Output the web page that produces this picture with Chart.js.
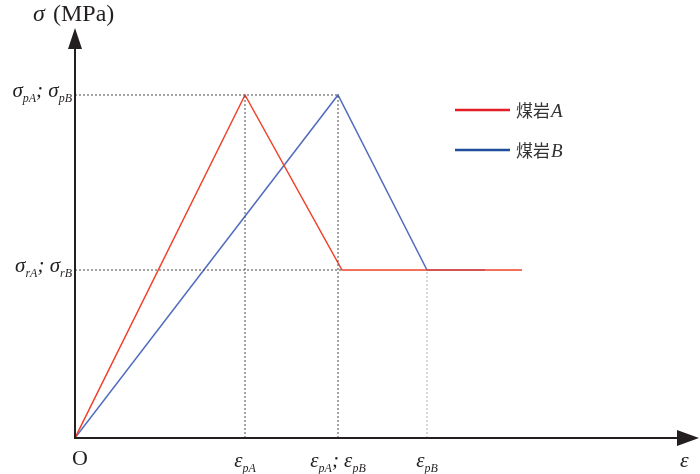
<!DOCTYPE html>
<html>
<head>
<meta charset="utf-8">
<script src="https://cdn.jsdelivr.net/npm/chart.js@4"></script>
<style>
  body { margin: 0; background: #fff; }
  #wrap { width: 700px; height: 474px; position: relative; }
</style>
</head>
<body>
<div id="wrap"><canvas id="myChart"></canvas></div>
<script>
// strain / stress in arbitrary units (no numeric ticks on the original)
const redStrain = [0, 1.70, 2.67, 4.47];
const redStress = [0, 3.43, 1.68, 1.68];
const blueStrain = [0, 2.63, 3.52, 4.10];
const blueStress = [0, 3.43, 1.68, 1.68];

const seriesNames = ["煤岩A", "煤岩B"];
const yTicks = [3.43, 1.68];
const yTickLabels = ["σ_pA; σ_pB", "σ_rA; σ_rB"];
const xTicks = [1.70, 2.63, 3.52];
const xTickLabels = ["ε_pA", "ε_pA; ε_pB", "ε_pB"];

const RED = "#f0412a";
const BLUE = "rgba(50, 82, 180, 0.85)";
const SERIF = "'Liberation Serif', 'DejaVu Serif', serif";
const CJK = "'Noto Sans CJK SC', sans-serif";

const pts = (xs, ys) => xs.map((x, i) => ({ x: x, y: ys[i] }));

const guide = (data, color) => ({
  data: data,
  borderColor: color || "#4a4a4a",
  borderWidth: 1,
  borderDash: [2, 2],
  pointRadius: 0,
  fill: false,
});

// draw "σ_pA; σ_pB" style text, subscripts after "_"
function drawRich(ctx, str, x, y, align) {
  const parts = [];
  str.split(/(_[A-Za-z]+)/).forEach((p) => {
    if (!p) return;
    if (p[0] === "_") parts.push({ t: p.slice(1), sub: true });
    else parts.push({ t: p, sub: false });
  });
  const fontFor = (p) =>
    p.sub ? "italic 12px " + SERIF : (/[σε]/.test(p.t) ? "italic 21px " : "20px ") + SERIF;
  let w = 0;
  parts.forEach((p) => { ctx.font = fontFor(p); w += ctx.measureText(p.t).width; });
  let cx = align === "right" ? x - w : align === "center" ? x - w / 2 : x;
  ctx.textAlign = "left";
  ctx.textBaseline = "alphabetic";
  parts.forEach((p) => {
    ctx.font = fontFor(p);
    ctx.fillText(p.t, cx, p.sub ? y + 5 : y);
    cx += ctx.measureText(p.t).width;
  });
}

const decorations = {
  id: "decorations",
  afterDraw(chart) {
    const ctx = chart.ctx;
    const xs = chart.scales.x, ys = chart.scales.y;
    const x0 = xs.getPixelForValue(0), y0 = ys.getPixelForValue(0);
    const top = chart.chartArea.top, right = chart.chartArea.right;
    ctx.save();
    ctx.fillStyle = "#231f20";
    ctx.strokeStyle = "#231f20";
    ctx.lineWidth = 2;
    // axes
    ctx.beginPath();
    ctx.moveTo(x0, y0); ctx.lineTo(x0, top + 18);
    ctx.moveTo(x0 - 1, y0); ctx.lineTo(right - 18, y0);
    ctx.stroke();
    // arrow heads
    ctx.beginPath();
    ctx.moveTo(x0, top); ctx.lineTo(x0 - 7, top + 21); ctx.lineTo(x0 + 7, top + 21);
    ctx.closePath(); ctx.fill();
    ctx.beginPath();
    ctx.moveTo(right + 4, y0); ctx.lineTo(right - 18, y0 - 8); ctx.lineTo(right - 18, y0 + 8);
    ctx.closePath(); ctx.fill();

    // axis titles
    ctx.textBaseline = "alphabetic";
    ctx.font = "italic 24px " + SERIF;
    ctx.fillText("σ", 33, 21);
    ctx.font = "24px " + SERIF;
    ctx.fillText("(MPa)", 53, 21);
    ctx.font = "italic 22px " + SERIF;
    ctx.fillText("ε", 680, 467);
    ctx.font = "22px " + SERIF;
    ctx.fillText("O", 72, 465);

    // tick labels
    yTicks.forEach((v, i) => drawRich(ctx, yTickLabels[i], x0 - 3, ys.getPixelForValue(v) + 2, "right"));
    xTicks.forEach((v, i) => drawRich(ctx, xTickLabels[i], xs.getPixelForValue(v), 467, "center"));

    // legend
    const colors = ["#e31e24", "#1f4e9c"];
    seriesNames.forEach((name, i) => {
      const ly = 110 + i * 40;
      ctx.strokeStyle = colors[i];
      ctx.lineWidth = 2.5;
      ctx.beginPath(); ctx.moveTo(455, ly); ctx.lineTo(510, ly); ctx.stroke();
      ctx.fillStyle = "#333";
      ctx.font = "17px " + CJK;
      ctx.fillText(name.slice(0, 2), 516, ly + 7);
      const w = ctx.measureText(name.slice(0, 2)).width;
      ctx.font = "italic 19px " + SERIF;
      ctx.fillText(name.slice(2), 516 + w + 1, ly + 7);
    });
    ctx.restore();
  },
};

const ctx = document.getElementById("myChart");

new Chart(ctx, {
  type: "line",
  data: {
    datasets: [
      guide([{ x: 0, y: yTicks[0] }, { x: xTicks[1], y: yTicks[0] }]),
      guide([{ x: 0, y: yTicks[1] }, { x: redStrain[2], y: yTicks[1] }]),
      guide([{ x: xTicks[0], y: 0 }, { x: xTicks[0], y: yTicks[0] }]),
      guide([{ x: xTicks[1], y: 0 }, { x: xTicks[1], y: yTicks[0] }]),
      guide([{ x: xTicks[2], y: 0 }, { x: xTicks[2], y: yTicks[1] }], "#b0b0b0"),
      {
        label: seriesNames[0],
        data: pts(redStrain, redStress),
        borderColor: RED,
        borderWidth: 1.5,
        pointRadius: 0,
        tension: 0,
      },
      {
        label: seriesNames[1],
        data: pts(blueStrain, blueStress),
        borderColor: BLUE,
        borderWidth: 1.5,
        pointRadius: 0,
        tension: 0,
      },
    ],
  },
  options: {
    responsive: true,
    maintainAspectRatio: false,
    animation: false,
    devicePixelRatio: 1,
    layout: { padding: { left: 75, right: 5, top: 28, bottom: 36 } },
    plugins: { legend: { display: false }, tooltip: { enabled: false } },
    scales: {
      x: { type: "linear", min: 0, max: 6.2, display: false },
      y: { type: "linear", min: 0, max: 4.1, display: false },
    },
  },
  plugins: [decorations],
});
</script>
</body>
</html>
